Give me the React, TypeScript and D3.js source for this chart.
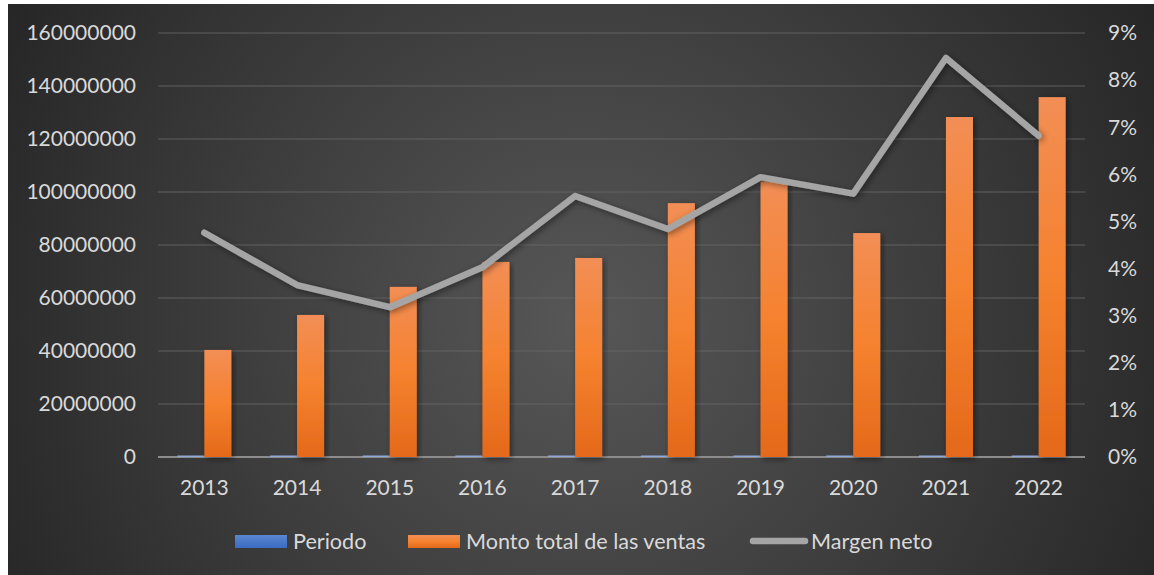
import React, { useEffect, useRef } from 'react'
import * as d3 from 'd3'

// data
const periodos = [ 2013, 2014, 2015, 2016, 2017, 2018, 2019, 2020, 2021, 2022 ]
const montoVentas = [ 40400000, 53600000, 64200000, 73600000, 75100000, 95800000, 104000000, 84500000, 128300000, 135800000 ]
const margenNeto = [ 0.0476, 0.0365, 0.0318, 0.0403, 0.0554, 0.0484, 0.0594, 0.0559, 0.0847, 0.0682 ]
const leftTicks = [ 0, 20000000, 40000000, 60000000, 80000000, 100000000, 120000000, 140000000, 160000000 ]
const rightTicks = [ 0, 0.01, 0.02, 0.03, 0.04, 0.05, 0.06, 0.07, 0.08, 0.09 ]
const legendNames = [ 'Periodo', 'Monto total de las ventas', 'Margen neto' ]

export default function App() {
    const svgRef = useRef(null)

    const width = 1146
    const height = 571
    const margin = { top: 29, right: 69, bottom: 118, left: 150 }

    useEffect(() => {
        const svg = d3.select(svgRef.current)
        svg.selectAll('*').remove()

        const font = 'Lato, "Open Sans", sans-serif'
        const textColor = '#d9d9d9'

        const defs = svg.append('defs')
        const bg = defs.append('radialGradient')
            .attr('id', 'bg')
            .attr('gradientUnits', 'userSpaceOnUse')
            .attr('cx', 575).attr('cy', 320).attr('r', 660)
        bg.append('stop').attr('offset', '0%').attr('stop-color', '#575757')
        bg.append('stop').attr('offset', '100%').attr('stop-color', '#262626')

        const orange = defs.append('linearGradient')
            .attr('id', 'orange').attr('x1', 0).attr('x2', 0).attr('y1', 0).attr('y2', 1)
        orange.append('stop').attr('offset', '0%').attr('stop-color', '#f28e55')
        orange.append('stop').attr('offset', '50%').attr('stop-color', '#f5822f')
        orange.append('stop').attr('offset', '100%').attr('stop-color', '#e4691a')

        const blue = defs.append('linearGradient')
            .attr('id', 'blue').attr('x1', 0).attr('x2', 0).attr('y1', 0).attr('y2', 1)
        blue.append('stop').attr('offset', '0%').attr('stop-color', '#5b86d0')
        blue.append('stop').attr('offset', '100%').attr('stop-color', '#3a6cc4')

        const shadow = defs.append('filter').attr('id', 'shadow')
            .attr('x', '-20%').attr('y', '-20%').attr('width', '140%').attr('height', '140%')
        shadow.append('feDropShadow')
            .attr('dx', 2).attr('dy', 2).attr('stdDeviation', 3)
            .attr('flood-color', '#000').attr('flood-opacity', 0.45)

        svg.append('rect')
            .attr('width', width).attr('height', height)
            .attr('fill', 'url(#bg)')

        const x = d3.scaleBand()
            .domain(periodos.map(String))
            .range([ margin.left, width - margin.right ])
            .padding(0)
        const groupW = x.bandwidth() * 0.583
        const xs = d3.scaleBand()
            .domain([ 'periodo', 'monto' ])
            .range([ 0, groupW ])
        const y = d3.scaleLinear()
            .domain([ 0, 160000000 ])
            .range([ height - margin.bottom, margin.top ])
        const y2 = d3.scaleLinear()
            .domain([ 0, 0.09 ])
            .range([ height - margin.bottom, margin.top ])

        // gridlines
        svg.append('g')
            .selectAll('line')
            .data(leftTicks.filter(d => d > 0))
            .join('line')
            .attr('x1', margin.left).attr('x2', width - margin.right)
            .attr('y1', d => y(d)).attr('y2', d => y(d))
            .attr('stroke', '#6a6a6a').attr('stroke-opacity', 0.55)
            .attr('stroke-width', 1.5)

        // left labels
        svg.append('g')
            .selectAll('text')
            .data(leftTicks)
            .join('text')
            .attr('x', 128).attr('y', d => y(d))
            .attr('dy', '0.35em')
            .attr('text-anchor', 'end')
            .attr('font-family', font).attr('font-size', 21)
            .attr('fill', textColor)
            .text(d => d)

        // right labels
        svg.append('g')
            .selectAll('text')
            .data(rightTicks)
            .join('text')
            .attr('x', 1100).attr('y', d => y2(d))
            .attr('dy', '0.35em')
            .attr('text-anchor', 'start')
            .attr('font-family', font).attr('font-size', 21)
            .attr('fill', textColor)
            .text(d => d3.format('.0%')(d))

        // baseline
        svg.append('line')
            .attr('x1', margin.left).attr('x2', width - margin.right)
            .attr('y1', y(0)).attr('y2', y(0))
            .attr('stroke', '#8c8c8c').attr('stroke-width', 2)

        // bars
        const groups = svg.append('g')
            .selectAll('g')
            .data(periodos)
            .join('g')
            .attr('transform', d => `translate(${ x(String(d)) + (x.bandwidth() - groupW) / 2 },0)`)

        groups.append('rect')
            .attr('x', xs('periodo'))
            .attr('width', xs.bandwidth())
            .attr('y', d => y(0) - Math.max(1.5, y(0) - y(d)))
            .attr('height', d => Math.max(1.5, y(0) - y(d)))
            .attr('fill', '#8fa9d8')

        groups.append('rect')
            .attr('x', xs('monto'))
            .attr('width', xs.bandwidth())
            .attr('y', (d, i) => y(montoVentas[i]))
            .attr('height', (d, i) => y(0) - y(montoVentas[i]))
            .attr('fill', 'url(#orange)')
            .attr('filter', 'url(#shadow)')

        // line
        const line = d3.line()
            .x((d, i) => x(String(periodos[i])) + x.bandwidth() / 2)
            .y(d => y2(d))
        svg.append('path')
            .datum(margenNeto)
            .attr('d', line)
            .attr('fill', 'none')
            .attr('stroke', '#a5a5a5')
            .attr('stroke-width', 6.5)
            .attr('stroke-linejoin', 'round')
            .attr('stroke-linecap', 'round')
            .attr('filter', 'url(#shadow)')

        // x labels
        svg.append('g')
            .selectAll('text')
            .data(periodos)
            .join('text')
            .attr('x', d => x(String(d)) + x.bandwidth() / 2)
            .attr('y', 484)
            .attr('dy', '0.35em')
            .attr('text-anchor', 'middle')
            .attr('font-family', font).attr('font-size', 21)
            .attr('fill', textColor)
            .text(d => d)

        // legend
        const legendY = 537
        const legend = svg.append('g')
        legend.append('rect')
            .attr('x', 227).attr('y', legendY - 6).attr('width', 52).attr('height', 13)
            .attr('fill', 'url(#blue)')
        legend.append('rect')
            .attr('x', 400).attr('y', legendY - 6).attr('width', 52).attr('height', 13)
            .attr('fill', 'url(#orange)')
        legend.append('line')
            .attr('x1', 745).attr('x2', 797)
            .attr('y1', legendY).attr('y2', legendY)
            .attr('stroke', '#a5a5a5').attr('stroke-width', 6.5)
            .attr('stroke-linecap', 'round')
        legend.selectAll('text')
            .data(legendNames)
            .join('text')
            .attr('x', (d, i) => [ 285, 458, 803 ][i])
            .attr('y', legendY)
            .attr('dy', '0.35em')
            .attr('font-family', font).attr('font-size', 21.6)
            .attr('fill', textColor)
            .text(d => d)
    }, [])

    return <svg ref={ svgRef } width={ width } height={ height }
                style={ { position: 'absolute', left: 8, top: 4, display: 'block' } }/>
}
